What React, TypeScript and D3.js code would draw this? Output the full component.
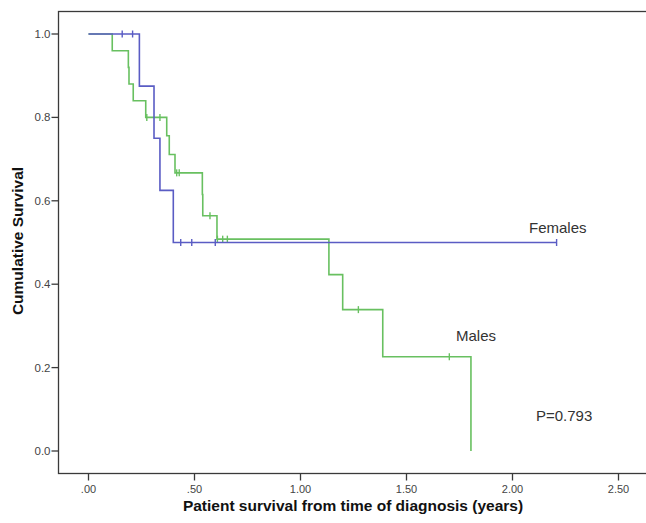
import React from "react";
import * as d3 from "d3";

// step values
const maleTimes = [0, 0.112, 0.188, 0.191, 0.211, 0.27, 0.369, 0.381, 0.408, 0.537, 0.539, 0.606, 1.134, 1.199, 1.388, 1.804];
const maleSurv = [1.0, 0.96, 0.92, 0.88, 0.84, 0.8, 0.756, 0.711, 0.667, 0.615, 0.564, 0.508, 0.423, 0.339, 0.226, 0.0];
const maleCensored = [0.275, 0.337, 0.416, 0.428, 0.573, 0.608, 0.633, 0.655, 1.273, 1.702];

const femaleTimes = [0, 0.24, 0.309, 0.337, 0.4, 2.208];
const femaleSurv = [1.0, 0.875, 0.75, 0.625, 0.5, 0.5];
const femaleCensored = [0.159, 0.208, 0.435, 0.487, 0.598, 2.208];

const xTicks = [0, 0.5, 1.0, 1.5, 2.0, 2.5];
const yTicks = [0, 0.2, 0.4, 0.6, 0.8, 1.0];

const W = 646;
const H = 523;
const frame = { left: 58.5, top: 11.5, right: 652, bottom: 473.5 };

const x = d3.scaleLinear().domain([0, 2.5]).range([88.5, 618.5]);
const y = d3.scaleLinear().domain([0, 1]).range([451, 34]);

const blue = "#5a5cc4";
const green = "#68c060";
const font = "'Liberation Sans', Arial, sans-serif";

function survAt(times: number[], surv: number[], t: number) {
  let s = surv[0];
  for (let i = 0; i < times.length; i++) {
    if (times[i] <= t) s = surv[i];
  }
  return s;
}

const stepLine = d3
  .line<[number, number]>()
  .x(d => x(d[0]))
  .y(d => y(d[1]))
  .curve(d3.curveStepAfter);

const fmtX = (v: number) => {
  const s = d3.format(".2f")(v);
  return s.startsWith("0") ? s.slice(1) : s;
};

function Curve({ times, surv, censored, color }: { times: number[]; surv: number[]; censored: number[]; color: string }) {
  const pts = times.map((t, i) => [t, surv[i]] as [number, number]);
  return (
    <g>
      <path d={stepLine(pts) || ""} fill="none" stroke={color} strokeWidth={1.6} />
      {censored.map((t, i) => {
        const cx = x(t);
        const cy = y(survAt(times, surv, t));
        return <line key={i} x1={cx} x2={cx} y1={cy - 3.5} y2={cy + 3.5} stroke={color} strokeWidth={1.4} />;
      })}
    </g>
  );
}

export default function App() {
  return (
    <svg
      width={W}
      height={H}
      style={{ position: "absolute", left: 0, top: 0, background: "#fff" }}
      fontFamily={font}
    >
      <rect x={0} y={0} width={W} height={H} fill="#fff" />
      <rect
        x={frame.left}
        y={frame.top}
        width={frame.right - frame.left}
        height={frame.bottom - frame.top}
        fill="none"
        stroke="#3a3a3a"
        strokeWidth={1.3}
      />

      {/* y axis */}
      {yTicks.map(v => (
        <g key={v}>
          <line x1={frame.left - 7} x2={frame.left} y1={y(v)} y2={y(v)} stroke="#3a3a3a" strokeWidth={1.3} />
          <text x={frame.left - 8} y={y(v)} dy="0.35em" textAnchor="end" fontSize={11.5} fill="#444">
            {d3.format(".1f")(v)}
          </text>
        </g>
      ))}

      {/* x axis */}
      {xTicks.map(v => (
        <g key={v}>
          <line x1={x(v)} x2={x(v)} y1={frame.bottom} y2={frame.bottom + 7} stroke="#3a3a3a" strokeWidth={1.3} />
          <text x={x(v)} y={489} dy="0.35em" textAnchor="middle" fontSize={11} fill="#444">
            {fmtX(v)}
          </text>
        </g>
      ))}

      <text x={353} y={506} dy="0.35em" textAnchor="middle" fontSize={15.5} fontWeight="bold" fill="#111">
        Patient survival from time of diagnosis (years)
      </text>
      <text
        transform={`translate(18,241) rotate(-90)`}
        dy="0.35em"
        textAnchor="middle"
        fontSize={15.5}
        fontWeight="bold"
        fill="#111"
      >
        Cumulative Survival
      </text>

      <Curve times={maleTimes} surv={maleSurv} censored={maleCensored} color={green} />
      <Curve times={femaleTimes} surv={femaleSurv} censored={femaleCensored} color={blue} />

      <text x={529} y={233} fontSize={15} fill="#333">Females</text>
      <text x={456} y={341} fontSize={15} fill="#333">Males</text>
      <text x={536} y={421} fontSize={15} fill="#333">P=0.793</text>
    </svg>
  );
}
